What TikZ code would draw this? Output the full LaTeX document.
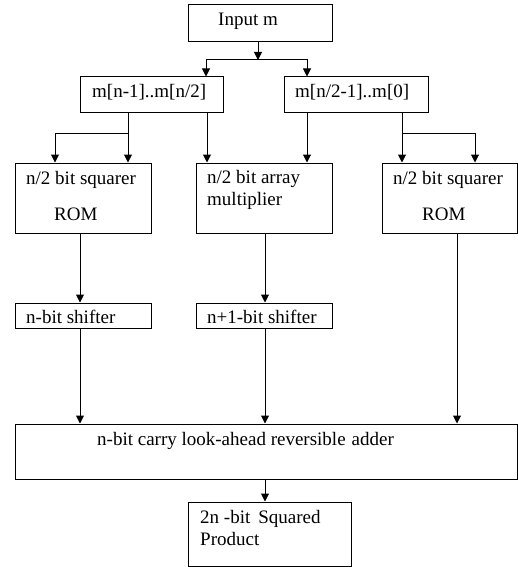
\documentclass[tikz,border=0pt]{standalone}
\usepackage{fontspec}
\setmainfont{Liberation Serif}
\usetikzlibrary{arrows.meta}
\begin{document}
\begin{tikzpicture}[x=1pt,y=-1pt,
  box/.style={draw, line width=1pt, rectangle, inner sep=0pt},
  txt/.style={anchor=base west, inner sep=0pt, font=\fontsize{19}{22}\selectfont},
  arr/.style={line width=1pt, -{Triangle[length=8pt,width=8pt]}},
  ln/.style={line width=1pt}]
\useasboundingbox[fill=white] (0,0) rectangle (518,567);
% boxes
\node[box, minimum width=144pt, minimum height=37pt] (in)   at (260,23.5) {};
\node[box, minimum width=143pt, minimum height=36pt] (hi)   at (151.5,95) {};
\node[box, minimum width=144pt, minimum height=36pt] (lo)   at (356,95) {};
\node[box, minimum width=136pt, minimum height=70pt] (sqa)  at (83,198) {};
\node[box, minimum width=136pt, minimum height=70pt] (mul)  at (264,198) {};
\node[box, minimum width=135pt, minimum height=70pt] (sqb)  at (449.5,198) {};
\node[box, minimum width=136pt, minimum height=25pt] (sha)  at (83,315.5) {};
\node[box, minimum width=136pt, minimum height=25pt] (shb)  at (264,315.5) {};
\node[box, minimum width=502pt, minimum height=55pt] (add)  at (266,451.5) {};
\node[box, minimum width=163pt, minimum height=64pt] (prod) at (269.5,534) {};
% texts
\node[txt] (tin)  at (218,26) {Input m};
\node[txt] (thi)  at (92,98) {m[n-1]..m[n/2]};
\node[txt] (tlo)  at (295,98) {m[n/2-1]..m[0]};
\node[txt] (tsqa) at (26,184) {n/2 bit squarer};
\node[txt] (rsqa) at (54,220) {ROM};
\node[txt] (tmul) at (207,183) {n/2 bit array};
\node[txt] (tmul2) at (207,205) {multiplier};
\node[txt] (tsqb) at (393,184) {n/2 bit squarer};
\node[txt] (rsqb) at (422,220) {ROM};
\node[txt] (tsha) at (26,323) {n-bit shifter};
\node[txt] (tshb) at (207,323) {n+1-bit shifter};
\node[txt] (tadd) at (97,445) {n-bit carry look-ahead reversible\hspace{6pt}adder};
\node[txt] (tpr1) at (200,523) {2n -bit\hspace{8pt}Squared};
\node[txt] (tpr2) at (200,545) {Product};
% x positions and junctions
\coordinate (x55) at (55,0);
\coordinate (x80) at (80,0);
\coordinate (x128) at (128,0);
\coordinate (x206) at (206,0);
\coordinate (x207) at (207,0);
\coordinate (x258) at (258,0);
\coordinate (x265) at (265,0);
\coordinate (x307) at (307,0);
\coordinate (x402) at (402,0);
\coordinate (x457) at (457,0);
\coordinate (x475) at (475,0);
\coordinate (j0) at (258,60);
\coordinate (ja) at (128,133);
\coordinate (jb) at (402,133);
% connectors
\draw[arr] (in.south -| x258) -- (j0);
\draw[arr] (j0) -- (j0 -| x206) -- (hi.north -| x206);
\draw[arr] (j0) -- (j0 -| x307) -- (lo.north -| x307);
\draw[ln] (hi.south -| x128) -- (ja);
\draw[arr] (ja) -- (sqa.north -| x128);
\draw[arr] (ja) -- (ja -| x55) -- (sqa.north -| x55);
\draw[arr] (hi.south -| x207) -- (mul.north -| x207);
\draw[arr] (lo.south -| x307) -- (mul.north -| x307);
\draw[ln] (lo.south -| x402) -- (jb);
\draw[arr] (jb) -- (sqb.north -| x402);
\draw[arr] (jb) -- (jb -| x475) -- (sqb.north -| x475);
\draw[arr] (sqa.south -| x80) -- (sha.north -| x80);
\draw[arr] (mul.south -| x265) -- (shb.north -| x265);
\draw[arr] (sha.south -| x80) -- (add.north -| x80);
\draw[arr] (shb.south -| x265) -- (add.north -| x265);
\draw[arr] (sqb.south -| x457) -- (add.north -| x457);
\draw[arr] (add.south -| x265) -- (prod.north -| x265);
\end{tikzpicture}
\end{document}
